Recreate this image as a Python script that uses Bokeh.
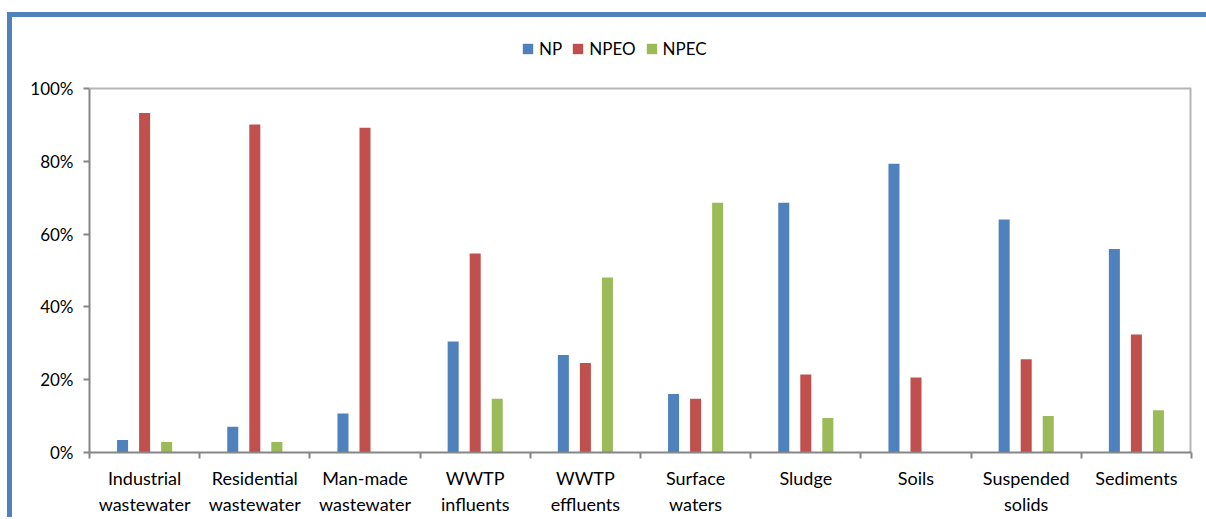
from bokeh.plotting import figure
from bokeh.models import (ColumnDataSource, FixedTicker, PrintfTickFormatter,
                          Legend, LegendItem, Range1d, Span)
from bokeh.embed import file_html
from bokeh.resources import INLINE

categories = ["Industrial\nwastewater", "Residential\nwastewater", "Man-made\nwastewater",
              "WWTP\ninfluents", "WWTP\neffluents", "Surface\nwaters", "Sludge", "Soils",
              "Suspended\nsolids", "Sediments"]
np_vals = [3.4, 7.1, 10.7, 30.5, 26.8, 16.1, 68.6, 79.3, 64.0, 55.9]
npeo_vals = [93.3, 90.1, 89.2, 54.7, 24.6, 14.8, 21.4, 20.6, 25.6, 32.4]
npec_vals = [2.9, 2.9, 0.0, 14.8, 48.1, 68.6, 9.5, 0.0, 10.0, 11.6]
series_names = ["NP", "NPEO", "NPEC"]
y_ticks = [0, 20, 40, 60, 80, 100]

colors = ["#4F81BD", "#C0504D", "#9BBB59"]
offsets = [-0.2, 0.0, 0.2]
FONT = "Lato"
BORDER = "#B5B5B5"

xs = list(range(len(categories)))
y_max = y_ticks[-1]
x_end = len(categories) - 0.5

# plot area 0..100% spans 364px; frame extended upward to hold the legend
AXIS_PX = 364
FRAME_PX = 422

p = figure(output_backend="svg", toolbar_location=None,
           frame_width=1102, frame_height=FRAME_PX,
           min_border_left=77, min_border_top=13, min_border_right=7, min_border_bottom=64,
           x_range=Range1d(-0.5, x_end), y_range=Range1d(0, y_max * FRAME_PX / AXIS_PX))
p.styles = {"border-top": "5px solid #4F81BD", "border-left": "5px solid #4F81BD",
            "margin-top": "12px", "margin-left": "7px", "padding-right": "8px"}

p.xgrid.visible = False
p.ygrid.visible = False
p.outline_line_color = None

# plot-area border (top and right)
p.add_layout(Span(location=y_max, dimension="width", line_color=BORDER, line_width=2))
p.segment(x0=[x_end], y0=[0], x1=[x_end], y1=[y_max], line_color=BORDER, line_width=4)

renderers = []
for vals, col, off in zip([np_vals, npeo_vals, npec_vals], colors, offsets):
    src = ColumnDataSource(dict(x=[x + off for x in xs], top=vals))
    r = p.vbar(x="x", top="top", width=0.1, source=src, fill_color=col, line_color=None)
    renderers.append(r)

# x axis
xa = p.xaxis[0]
xa.ticker = FixedTicker(ticks=xs, minor_ticks=[x - 0.5 for x in xs] + [x_end])
xa.major_label_overrides = {i: c for i, c in enumerate(categories)}
xa.major_tick_out = 0
xa.major_tick_in = 0
xa.minor_tick_out = 6
xa.minor_tick_in = 0
xa.minor_tick_line_color = "#868686"
xa.minor_tick_line_width = 2
xa.axis_line_color = "#868686"
xa.axis_line_width = 2
xa.major_label_standoff = 8
xa.major_label_text_font = FONT
xa.major_label_text_font_size = "18px"
xa.major_label_text_color = "#000000"

# y axis
ya = p.yaxis[0]
ya.bounds = (0, y_max)
ya.ticker = FixedTicker(ticks=y_ticks)
ya.formatter = PrintfTickFormatter(format="%d%%")
ya.major_tick_out = 6
ya.major_tick_in = 0
ya.minor_tick_out = 0
ya.minor_tick_in = 0
ya.major_tick_line_color = "#868686"
ya.major_tick_line_width = 2
ya.axis_line_color = "#868686"
ya.axis_line_width = 2
ya.major_label_standoff = 10
ya.major_label_text_font = FONT
ya.major_label_text_font_size = "17px"
ya.major_label_text_color = "#000000"

legend = Legend(items=[LegendItem(label=n, renderers=[r]) for n, r in zip(series_names, renderers)],
                orientation="horizontal", location=(432, 393),
                glyph_width=13, glyph_height=13, label_standoff=5, spacing=9,
                padding=0, margin=0, border_line_color=None, background_fill_alpha=0,
                label_text_font=FONT, label_text_font_size="17px", label_text_color="#000000")
p.add_layout(legend, "center")

open("out.html", "w").write(file_html(p, INLINE))
